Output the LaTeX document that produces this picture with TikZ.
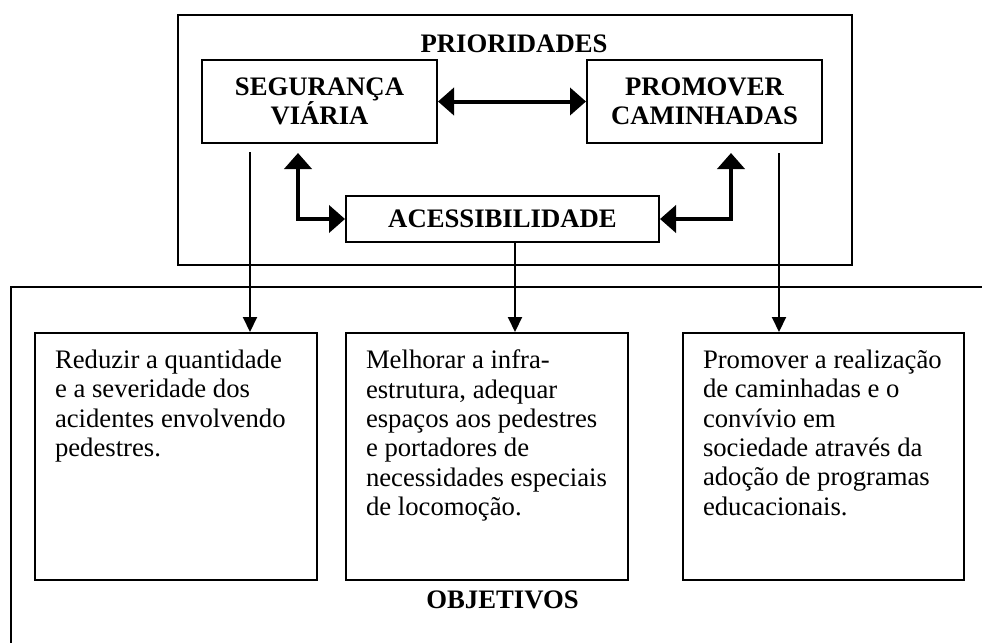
\documentclass[tikz,border=0pt]{standalone}
\usepackage{fontspec}
\setmainfont{Liberation Serif}
\usetikzlibrary{positioning, arrows.meta}

\newcommand{\diagfont}{\fontsize{26.7}{29.3}\selectfont}

\tikzset{
  prio/.style={draw, line width=2pt, align=center, font=\diagfont\bfseries, inner sep=0pt},
  obj/.style={draw, line width=2pt, anchor=north, inner xsep=20pt, inner ysep=17pt, font=\diagfont},
  dblarrow/.style={{Triangle[length=16pt,width=27pt]}-{Triangle[length=16pt,width=27pt]}, line width=4pt},
  downarrow/.style={-{Triangle[length=15pt,width=14pt]}, line width=2pt}
}

\begin{document}
\begin{tikzpicture}[x=1pt, y=-1pt]
      \useasboundingbox (0,0) rectangle (982,643);

      % prioridades
      \draw[line width=2pt] (178,15) rectangle (852,265);
      \node[font=\diagfont\bfseries]                           (PR) at (514,44)      {PRIORIDADES};
      \node[prio, minimum width=235pt, minimum height=83pt]    (SV) at (319.5,101.5) {SEGURANÇA \\ VIÁRIA};
      \node[prio, minimum width=235pt, minimum height=83pt]    (PC) at (704.5,101.5) {PROMOVER \\ CAMINHADAS};
      \node[prio, minimum width=313pt, minimum height=46pt]    (AC) at (502.5,219)   {ACESSIBILIDADE};

      \draw[dblarrow] (SV) -- (PC);
      \draw[dblarrow] (AC.west) -| ([xshift=-21.5pt, yshift=-9pt]SV.south);
      \draw[dblarrow] (AC.east) -| ([xshift=26.5pt, yshift=-9pt]PC.south);

      % objetivos
      \draw[line width=2pt] (982,287) -- (11,287) -- (11,643);
      \node[obj] (RQ) at (176,332)   {\parbox[t][213pt][t]{242pt}{\raggedright
        Reduzir a quantidade\\ e a severidade dos\\ acidentes envolvendo\\ pedestres.}};
      \node[obj] (MI) at (487,332)   {\parbox[t][213pt][t]{242pt}{\raggedright
        Melhorar a infra-\\ estrutura, adequar\\ espaços aos pedestres\\ e portadores de\\ necessidades especiais\\ de locomoção.}};
      \node[obj] (PR2) at (823.5,332) {\parbox[t][213pt][t]{241pt}{\raggedright
        Promover a realização\\ de caminhadas e o\\ convívio em\\ sociedade através da\\ adoção de programas\\ educacionais.}};
      \node[font=\diagfont\bfseries] (OB) at (502.5,600) {OBJETIVOS};

      \coordinate (s1) at ([xshift=-69.5pt, yshift=-8pt]SV.south);
      \coordinate (s2) at ([xshift=12.5pt]AC.south);
      \coordinate (s3) at ([xshift=74.5pt, yshift=-9pt]PC.south);

      \draw[downarrow] (s1) -- (s1 |- RQ.north);
      \draw[downarrow] (s2) -- (s2 |- MI.north);
      \draw[downarrow] (s3) -- (s3 |- PR2.north);
\end{tikzpicture}
\end{document}
